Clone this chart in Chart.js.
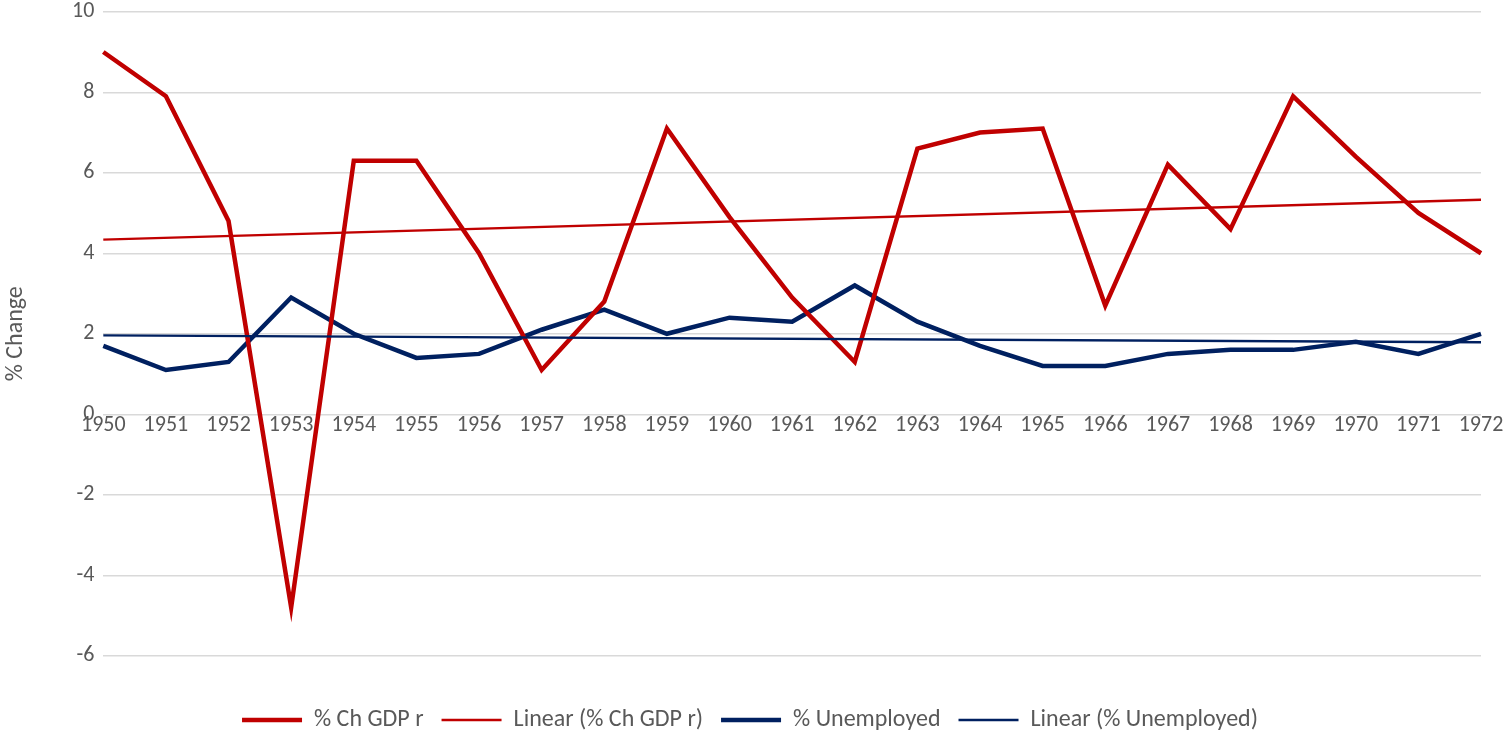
<!DOCTYPE html>
<html>
<head>
<meta charset="utf-8">
<script src="https://cdn.jsdelivr.net/npm/chart.js@4"></script>
<style>
  html, body { margin: 0; padding: 0; background: #fff; }
  #wrap { width: 1506px; height: 731px; }
</style>
</head>
<body>
<div id="wrap"><canvas id="chart"></canvas></div>
<script>
const years = ['1950', '1951', '1952', '1953', '1954', '1955', '1956', '1957', '1958', '1959', '1960',
  '1961', '1962', '1963', '1964', '1965', '1966', '1967', '1968', '1969', '1970', '1971', '1972'];

const gdpChange = [9.0, 7.9, 4.8, -4.8, 6.3, 6.3, 4.0, 1.1, 2.8, 7.1, 4.9,
  2.9, 1.3, 6.6, 7.0, 7.1, 2.7, 6.2, 4.6, 7.9, 6.4, 5.0, 4.0];

const unemployed = [1.7, 1.1, 1.3, 2.9, 2.0, 1.4, 1.5, 2.1, 2.6, 2.0, 2.4,
  2.3, 3.2, 2.3, 1.7, 1.2, 1.2, 1.5, 1.6, 1.6, 1.8, 1.5, 2.0];

// trend lines, read at the two ends
const gdpTrend = [4.34, null, null, null, null, null, null, null, null, null, null,
  null, null, null, null, null, null, null, null, null, null, null, 5.33];
const unemployedTrend = [1.96, null, null, null, null, null, null, null, null, null, null,
  null, null, null, null, null, null, null, null, null, null, null, 1.79];

const yTicks = [-6, -4, -2, 0, 2, 4, 6, 8, 10];
const yTitle = '% Change';

const red = '#C00000';
const navy = '#002060';
const textColor = '#595959';
const fontFamily = 'Carlito, Calibri, "Liberation Sans", sans-serif';

// axis title centred on the -6..10 range rather than the whole plot area
const yTitlePlugin = {
  id: 'yTitle',
  afterDraw(chart) {
    const y = chart.scales.y;
    const mid = (y.getPixelForValue(yTicks[0]) + y.getPixelForValue(yTicks[yTicks.length - 1])) / 2;
    const c = chart.ctx;
    c.save();
    c.translate(16, mid);
    c.rotate(-Math.PI / 2);
    c.fillStyle = textColor;
    c.font = `24px ${fontFamily}`;
    c.textAlign = 'center';
    c.textBaseline = 'middle';
    c.fillText(yTitle, 0, 0);
    c.restore();
  },
};

const ctx = document.getElementById('chart').getContext('2d');

new Chart(ctx, {
  type: 'line',
  data: {
    labels: years,
    datasets: [
      {
        label: '% Ch GDP r',
        data: gdpChange,
        borderColor: red,
        backgroundColor: red,
        borderWidth: 4.5,
        pointRadius: 0,
        tension: 0,
        order: 2,
      },
      {
        label: 'Linear (% Ch GDP r)',
        data: gdpTrend,
        borderColor: red,
        backgroundColor: red,
        borderWidth: 2.4,
        pointRadius: 0,
        spanGaps: true,
        order: 1,
      },
      {
        label: '% Unemployed',
        data: unemployed,
        borderColor: navy,
        backgroundColor: navy,
        borderWidth: 4.5,
        pointRadius: 0,
        tension: 0,
        order: 2,
      },
      {
        label: 'Linear (% Unemployed)',
        data: unemployedTrend,
        borderColor: navy,
        backgroundColor: navy,
        borderWidth: 2.4,
        pointRadius: 0,
        spanGaps: true,
        order: 1,
      },
    ],
  },
  options: {
    responsive: true,
    maintainAspectRatio: false,
    animation: false,
    layout: {
      padding: { left: 19, right: 25, top: 0, bottom: -11 },
    },
    scales: {
      x: {
        position: { y: 0 },
        offset: false,
        grid: { display: false, drawTicks: false },
        border: { display: false },
        ticks: {
          color: textColor,
          font: { family: fontFamily, size: 22 },
          maxRotation: 0,
          autoSkip: false,
          padding: -2,
        },
      },
      y: {
        min: -6.85,
        max: 10,
        afterBuildTicks: (axis) => {
          axis.ticks = yTicks.map(v => ({ value: v }));
        },
        // room for the title drawn by yTitlePlugin
        afterFit: (axis) => {
          axis.width += 44;
        },
        grid: { color: '#d9d9d9', lineWidth: 1.4, drawTicks: false },
        border: { display: false },
        ticks: {
          color: textColor,
          font: { family: fontFamily, size: 22, lineHeight: 0.25 },
          padding: 9,
        },
      },
    },
    plugins: {
      legend: {
        position: 'bottom',
        labels: {
          color: textColor,
          font: { family: fontFamily, size: 24 },
          usePointStyle: true,
          pointStyle: 'line',
          pointStyleWidth: 60,
          padding: 18,
          sort: (a, b) => a.datasetIndex - b.datasetIndex,
        },
      },
      tooltip: { enabled: false },
    },
  },
  plugins: [yTitlePlugin],
});
</script>
</body>
</html>
